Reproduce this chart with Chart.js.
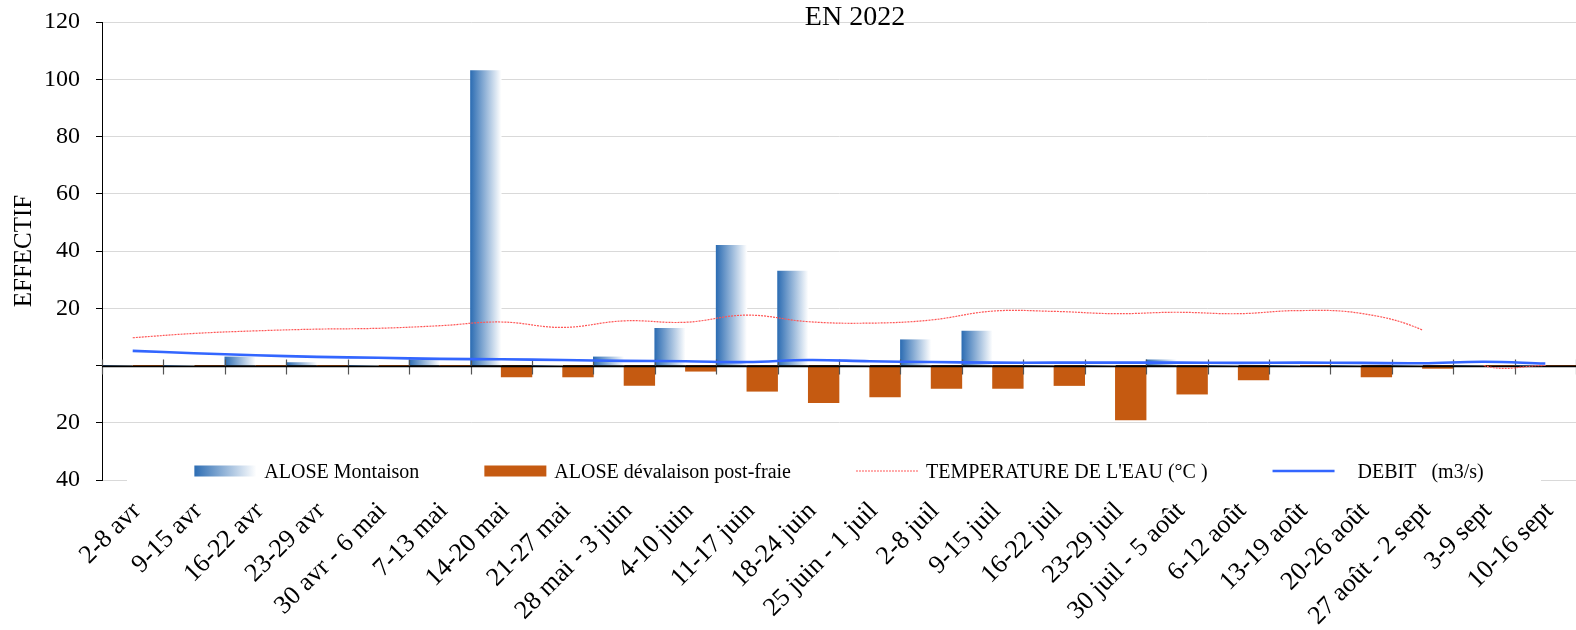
<!DOCTYPE html>
<html lang="fr">
<head>
<meta charset="utf-8">
<title>ALOSE – EN 2022</title>
<script src="https://cdn.jsdelivr.net/npm/chart.js@4/dist/chart.umd.min.js"></script>
<style>
  html, body { margin: 0; padding: 0; background: #ffffff; }
  #wrap { width: 1576px; height: 630px; }
</style>
</head>
<body>
<div id="wrap"><canvas id="chart" width="1576" height="630"></canvas></div>
<script>
// Weekly counts at the fish pass, 2022
const semaines = [
  '2-8 avr', '9-15 avr', '16-22 avr', '23-29 avr', '30 avr - 6 mai', '7-13 mai',
  '14-20 mai', '21-27 mai', '28 mai - 3 juin', '4-10 juin', '11-17 juin', '18-24 juin',
  '25 juin - 1 juil', '2-8 juil', '9-15 juil', '16-22 juil', '23-29 juil', '30 juil - 5 août',
  '6-12 août', '13-19 août', '20-26 août', '27 août - 2 sept', '3-9 sept', '10-16 sept'
];

// Upstream migrants (number of fish)
const montaison = [0, 0, 3, 1, 0, 2, 103, 0, 3, 13, 42, 33, 0, 9, 12, 0, 0, 2, 0, 0, 0, 0, 0, 0];

// Post-spawning downstream migrants (number of fish, plotted below the axis)
const devalaison = [0, 0, 0, 0, 0, 0, 4, 4, 7, 2, 9, 13, 11, 8, 8, 7, 19, 10, 5, 0, 4, 1, 0, 0];

// Weekly mean water temperature (°C)
const temperature = [9.7, 11.2, 12.1, 12.7, 13.0, 13.9, 15.2, 13.3, 15.6, 15.1, 17.6, 15.3,
                     14.8, 15.9, 19.0, 18.9, 18.1, 18.6, 18.1, 19.2, 18.2, 12.4, 0, 0];
// The probe record is interrupted after this week
const temperatureGapAfter = '27 août - 2 sept';

// Weekly mean flow (m3/s)
const debit = [5.1, 4.3, 3.6, 3.0, 2.7, 2.3, 2.2, 1.9, 1.6, 1.5, 1.2, 1.9,
               1.5, 1.2, 1.0, 1.0, 1.0, 1.0, 0.9, 1.0, 0.9, 0.8, 1.3, 0.7];

// Value axis: counts above zero, counts below zero, labelled as absolute numbers
const yMin = -40, yMax = 120, yStep = 20;

const SERIF = '"Liberation Serif", "Times New Roman", Times, serif';
const BLUE_DARK = '#2d6db3';
const ORANGE = '#c55a11';
const RED = '#ff5656';
const FLOW_BLUE = '#3366ff';
const GRID = '#d9d9d9';

Chart.defaults.font.family = SERIF;
Chart.defaults.color = '#000000';

function blueGradient(ctx, x0, x1) {
  const g = ctx.createLinearGradient(x0, 0, x1, 0);
  g.addColorStop(0, BLUE_DARK);
  g.addColorStop(1, '#ffffff');
  return g;
}

// Horizontal gradient for each upstream bar, spanning the left half of its week
function montaisonFill(c) {
  const chart = c.chart;
  const xs = chart.scales && chart.scales.x;
  if (!xs || !chart.chartArea || c.dataIndex === undefined) return BLUE_DARK;
  const center = xs.getPixelForValue(c.dataIndex);
  const w = xs.getPixelForValue(1) - xs.getPixelForValue(0);
  return blueGradient(chart.ctx, center - w / 2, center);
}

const gapIndex = semaines.indexOf(temperatureGapAfter);

// Zero axis with week tick marks, drawn above the bars and below the curves
const zeroAxis = {
  id: 'zeroAxis',
  afterDatasetDraw(chart, args) {
    if (args.index !== 0) return;
    const { ctx, chartArea, scales } = chart;
    const y0 = Math.round(scales.y.getPixelForValue(0)) + 0.5;
    const xs = scales.x;
    const w = xs.getPixelForValue(1) - xs.getPixelForValue(0);
    ctx.save();
    ctx.strokeStyle = '#555555';
    ctx.lineWidth = 1.2;
    for (let k = 0; k <= semaines.length; k++) {
      const x = Math.round(xs.getPixelForValue(k) - w / 2) + 0.5;
      ctx.beginPath();
      ctx.moveTo(x, y0 - 7);
      ctx.lineTo(x, y0 + 8);
      ctx.stroke();
    }
    ctx.strokeStyle = '#000000';
    ctx.lineWidth = 1.6;
    ctx.beginPath();
    ctx.moveTo(chartArea.left, y0);
    ctx.lineTo(chartArea.right, y0);
    ctx.stroke();
    ctx.restore();
  }
};

// Title and legend sit inside the plotting frame
const frameTexts = {
  id: 'frameTexts',
  afterDraw(chart, args, opts) {
    const { ctx, chartArea, scales } = chart;
    const cx = (chartArea.left + chartArea.right) / 2;
    ctx.save();

    // title
    ctx.font = '28px ' + SERIF;
    ctx.fillStyle = '#000000';
    ctx.textAlign = 'center';
    ctx.textBaseline = 'alphabetic';
    ctx.fillText(opts.title, cx + opts.titleShift, chartArea.top + 3);

    // legend
    ctx.font = '20px ' + SERIF;
    ctx.textAlign = 'left';
    const items = chart.data.datasets.map(ds => ({ ds, tw: ctx.measureText(ds.label).width }));
    const swatchW = 62, swatchGap = 8, itemGap = 65;
    let total = 0;
    items.forEach((it, i) => { total += swatchW + swatchGap + it.tw + (i ? itemGap : 0); });
    const cy = scales.y.getPixelForValue(yMin) - 9;

    ctx.fillStyle = '#ffffff';
    ctx.fillRect(cx - 712, cy - 17, 1414, 34);

    let x = cx - total / 2;
    items.forEach(({ ds, tw }) => {
      const kind = ds.legendKind;
      if (kind === 'gradient') {
        ctx.fillStyle = blueGradient(ctx, x, x + swatchW);
        ctx.fillRect(x, cy - 5.5, swatchW, 11);
      } else if (kind === 'box') {
        ctx.fillStyle = ds.backgroundColor;
        ctx.fillRect(x, cy - 5.5, swatchW, 11);
      } else {
        ctx.strokeStyle = ds.borderColor;
        ctx.lineWidth = ds.borderWidth;
        ctx.setLineDash(ds.borderDash || []);
        ctx.beginPath();
        ctx.moveTo(x, cy);
        ctx.lineTo(x + swatchW, cy);
        ctx.stroke();
        ctx.setLineDash([]);
      }
      ctx.fillStyle = '#000000';
      ctx.fillText(ds.label, x + swatchW + swatchGap, cy + 6.5);
      x += swatchW + swatchGap + tw + itemGap;
    });
    ctx.restore();
  }
};

new Chart(document.getElementById('chart'), {
  type: 'bar',
  data: {
    labels: semaines,
    datasets: [
      {
        type: 'bar',
        label: 'ALOSE Montaison',
        data: montaison,
        backgroundColor: montaisonFill,
        legendKind: 'gradient',
        borderWidth: 0,
        categoryPercentage: 1,
        barPercentage: 1,
        order: 2
      },
      {
        type: 'bar',
        label: 'ALOSE dévalaison post-fraie',
        data: devalaison.map(v => -v),
        backgroundColor: ORANGE,
        legendKind: 'box',
        borderWidth: 0,
        categoryPercentage: 1,
        barPercentage: 1,
        order: 2
      },
      {
        type: 'line',
        label: "TEMPERATURE DE L'EAU (°C )",
        data: temperature,
        borderColor: RED,
        borderWidth: 1.2,
        borderDash: [2, 1],
        legendKind: 'line',
        pointRadius: 0,
        tension: 0.4,
        fill: false,
        segment: {
          borderColor: s => (s.p0DataIndex === gapIndex ? 'rgba(0,0,0,0)' : undefined)
        },
        order: 1
      },
      {
        type: 'line',
        label: '   DEBIT   (m3/s)',
        data: debit,
        borderColor: FLOW_BLUE,
        borderWidth: 2.6,
        legendKind: 'line',
        pointRadius: 0,
        tension: 0.4,
        fill: false,
        order: 0
      }
    ]
  },
  options: {
    responsive: false,
    animation: false,
    events: [],
    layout: { padding: { top: 22, right: 0, bottom: 0, left: 0 } },
    plugins: {
      legend: { display: false },
      tooltip: { enabled: false },
      title: { display: false },
      frameTexts: { title: 'EN 2022', titleShift: 16 }
    },
    scales: {
      x: {
        offset: true,
        grid: { display: false, drawTicks: false },
        border: { display: false },
        ticks: {
          autoSkip: false,
          minRotation: 45,
          maxRotation: 45,
          padding: 16,
          labelOffset: 4,
          font: { size: 26, family: SERIF },
          color: '#000000'
        },
        afterFit: s => { s.height = 150; s.paddingLeft = 0; s.paddingRight = 0; }
      },
      y: {
        min: yMin,
        max: yMax,
        ticks: {
          stepSize: yStep,
          padding: 16,
          font: { size: 24, family: SERIF },
          color: '#000000',
          callback: v => (v === 0 ? '' : String(Math.abs(v)))
        },
        grid: {
          color: c => (c.tick && c.tick.value === 0 ? '#000000' : GRID),
          lineWidth: 1,
          tickLength: 6,
          tickColor: '#000000'
        },
        border: { display: true, color: '#000000', width: 1 },
        title: {
          display: true,
          text: 'EFFECTIF',
          font: { size: 25, family: SERIF },
          color: '#000000',
          padding: { top: 9, bottom: 0 }
        },
        afterFit: s => { s.width = 102; s.paddingTop = 0; s.paddingBottom = 0; }
      }
    }
  },
  plugins: [zeroAxis, frameTexts]
});
</script>
</body>
</html>
